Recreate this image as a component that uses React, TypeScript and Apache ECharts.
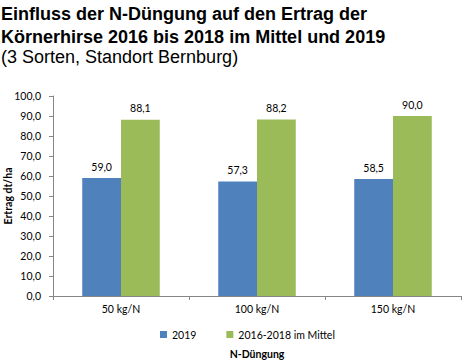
import React, { useEffect, useRef } from "react";
import * as echarts from "echarts";

const categories = ["50 kg/N", "100 kg/N", "150 kg/N"];
const series2019 = [59.0, 57.3, 58.5];
const seriesMittel = [88.1, 88.2, 90.0];
const seriesNames = ["2019", "2016-2018 im Mittel"];
const titleLines = [
  "Einfluss der N-Düngung auf den Ertrag der",
  "Körnerhirse 2016 bis 2018 im Mittel und 2019",
];
const subtitle = "(3 Sorten, Standort Bernburg)";
const yAxisName = "Ertrag dt/ha";
const xAxisName = "N-Düngung";

const fmt = (v: number) => v.toFixed(1).replace(".", ",");

export default function App() {
  const ref = useRef<HTMLDivElement>(null);
  useEffect(() => {
    if (!ref.current) return;
    const chart = echarts.init(ref.current, null, { renderer: "svg" });
    const chartFont = "Lato, 'Open Sans', sans-serif";
    chart.setOption({
      animation: false,
      backgroundColor: "#ffffff",
      title: [
        {
          text: titleLines.join("\n"),
          left: 1,
          top: 3,
          textStyle: {
            fontFamily: "'Liberation Sans', Arial, sans-serif",
            fontWeight: "bold",
            fontSize: 18,
            lineHeight: 22.5,
            color: "#000000",
          },
          padding: 0,
        },
        {
          text: subtitle,
          left: 1,
          top: 48,
          textStyle: {
            fontFamily: "'Liberation Sans', Arial, sans-serif",
            fontWeight: "normal",
            fontSize: 18,
            color: "#000000",
          },
          padding: 0,
        },
      ],
      legend: {
        data: seriesNames,
        bottom: 17,
        left: 155,
        itemWidth: 7,
        itemHeight: 7,
        itemGap: 30,
        icon: "rect",
        textStyle: { fontFamily: chartFont, fontSize: 10.5, color: "#000" },
      },
      grid: {
        left: 53,
        right: 6,
        top: 96,
        bottom: 66,
        containLabel: false,
        outerBoundsMode: "none",
      },
      xAxis: {
        type: "category",
        data: categories,
        name: xAxisName,
        nameLocation: "middle",
        nameGap: 52,
        nameMoveOverlap: false,
        nameTextStyle: { fontFamily: chartFont, fontSize: 10.5, fontWeight: "bold", color: "#000" },
        axisLine: { lineStyle: { color: "#868686" } },
        axisTick: { show: true, alignWithLabel: false, length: 4, lineStyle: { color: "#868686" } },
        axisLabel: { fontFamily: chartFont, fontSize: 10.5, color: "#000", margin: 7 },
      },
      yAxis: {
        type: "value",
        min: 0,
        max: 100,
        interval: 10,
        name: yAxisName,
        nameLocation: "middle",
        nameGap: 40,
        nameMoveOverlap: false,
        nameRotate: 90,
        nameTextStyle: { fontFamily: chartFont, fontSize: 10.5, fontWeight: "bold", color: "#000" },
        axisLine: { show: true, lineStyle: { color: "#868686" } },
        axisTick: { show: true, length: 4, lineStyle: { color: "#868686" } },
        splitLine: { show: false },
        axisLabel: {
          fontFamily: chartFont,
          fontSize: 10.5,
          color: "#000",
          margin: 12,
          formatter: (v: number) => fmt(v),
        },
      },
      series: [
        {
          name: seriesNames[0],
          type: "bar",
          data: series2019,
          barGap: "0%",
          barCategoryGap: "43%",
          itemStyle: { color: "#4F81BD" },
          label: {
            show: true,
            position: "top",
            distance: 6,
            fontFamily: chartFont,
            fontSize: 10.5,
            color: "#000",
            formatter: (p: any) => fmt(p.value),
          },
        },
        {
          name: seriesNames[1],
          type: "bar",
          data: seriesMittel,
          barGap: "0%",
          barCategoryGap: "43%",
          itemStyle: { color: "#9BBB59" },
          label: {
            show: true,
            position: "top",
            distance: 6,
            fontFamily: chartFont,
            fontSize: 10.5,
            color: "#000",
            formatter: (p: any) => fmt(p.value),
          },
        },
      ],
    });
    return () => chart.dispose();
  }, []);
  return (
    <div
      ref={ref}
      style={{ position: "absolute", left: 0, top: 0, width: 467, height: 362 }}
    />
  );
}
